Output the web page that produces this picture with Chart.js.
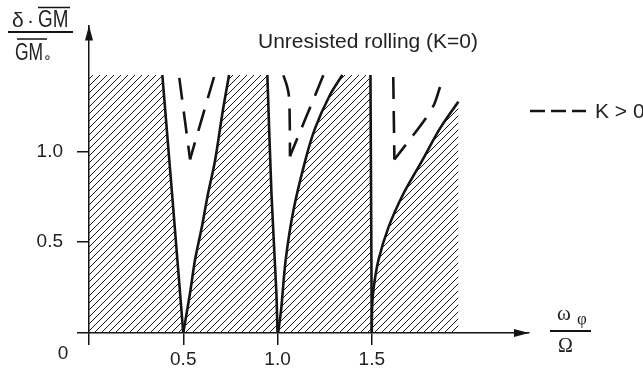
<!DOCTYPE html>
<html>
<head>
<meta charset="utf-8">
<script src="https://cdn.jsdelivr.net/npm/chart.js@4"></script>
<style>
  body { margin: 0; background: #fff; }
  canvas { display: block; }
</style>
</head>
<body>
<canvas id="grafico" width="643" height="373"></canvas>
<script>
// ejes
const xTicks = [0, 0.5, 1.0, 1.5];
const yTicks = [0, 0.5, 1.0];
const xMax = 2.334;
const yMax = 1.693;
const shadeTop = 1.42;

// bordes de las zonas inestables (K=0), linea continua
const t1LeftX = [0.5, 0.445, 0.389];
const t1LeftY = [0, 0.71, shadeTop];
const t1RightX = [0.5, 0.536, 0.562, 0.598, 0.631, 0.668, 0.709, 0.743];
const t1RightY = [0, 0.22, 0.40, 0.58, 0.765, 0.945, 1.218, shadeTop];
const t2LeftX = [1.0, 0.994, 0.968, 0.946];
const t2LeftY = [0, 0.22, 0.765, shadeTop];
const t2RightX = [1.003, 1.019, 1.043, 1.084, 1.146, 1.199, 1.278, 1.344];
const t2RightY = [0, 0.127, 0.40, 0.673, 0.945, 1.126, 1.31, shadeTop];
const t3LeftX = [1.5, 1.493];
const t3LeftY = [0, shadeTop];
const t3RightX = [1.5, 1.502, 1.51, 1.535, 1.588, 1.667, 1.765, 1.862, 1.959];
const t3RightY = [0, 0.15, 0.25, 0.40, 0.58, 0.765, 0.945, 1.126, 1.273];

// K > 0, linea discontinua
const d1LeftX = [0.479, 0.536];
const d1LeftY = [1.404, 0.956];
const d1RightX = [0.663, 0.536];
const d1RightY = [1.409, 0.956];
const d2LeftX = [1.031, 1.050, 1.061, 1.065, 1.066];
const d2LeftY = [1.418, 1.36, 1.30, 1.15, 0.973];
const d2RightX = [1.243, 1.066];
const d2RightY = [1.418, 0.973];
const d3LeftX = [1.614, 1.620];
const d3LeftY = [1.409, 0.955];
const d3RightX = [1.862, 1.830, 1.782, 1.703, 1.620];
const d3RightY = [1.354, 1.256, 1.175, 1.066, 0.955];

const pts = (xs, ys) => xs.map((x, i) => ({ x: x, y: ys[i] }));
const rev = (arr) => arr.slice().reverse();

// patron de rayado
const tile = document.createElement('canvas');
tile.width = 7;
tile.height = 7;
const tc = tile.getContext('2d');
tc.strokeStyle = '#1a1a1a';
tc.lineWidth = 1;
tc.beginPath();
tc.moveTo(0, 7); tc.lineTo(7, 0);
tc.moveTo(-1, 1); tc.lineTo(1, -1);
tc.moveTo(6, 8); tc.lineTo(8, 6);
tc.stroke();
const rayado = tc.createPattern(tile, 'repeat');

// zonas estables (rayadas)
const zona1 = [{ x: 0, y: 0 }, ...pts(t1LeftX, t1LeftY), { x: 0, y: shadeTop }, { x: 0, y: 0 }];
const zona2 = [...pts(t1RightX, t1RightY), ...rev(pts(t2LeftX, t2LeftY)), { x: t1RightX[0], y: 0 }];
const zona3 = [...pts(t2RightX, t2RightY), ...rev(pts(t3LeftX, t3LeftY)), { x: t2RightX[0], y: 0 }];
const zona4 = [...pts(t3RightX, t3RightY), { x: t3RightX[t3RightX.length - 1], y: 0 }, { x: t3RightX[0], y: 0 }];

const zona = (data) => ({
  data: data,
  fill: 'shape',
  backgroundColor: rayado,
  borderWidth: 0,
  borderColor: 'rgba(0,0,0,0)',
  pointRadius: 0,
  tension: 0,
});
const borde = (data) => ({
  data: data,
  fill: false,
  borderColor: '#141414',
  borderWidth: 2.6,
  pointRadius: 0,
  tension: 0.3,
});
const discontinua = (data) => ({
  data: data,
  fill: false,
  borderColor: '#141414',
  borderWidth: 2.6,
  borderDash: [22, 12],
  pointRadius: 0,
  tension: 0.3,
});

const textos = {
  id: 'textos',
  afterDraw(chart) {
    const c = chart.ctx;
    const area = chart.chartArea;
    const x0 = chart.scales.x.getPixelForValue(0);
    const y0 = chart.scales.y.getPixelForValue(0);
    c.save();
    c.fillStyle = '#141414';
    c.strokeStyle = '#141414';

    // flechas
    c.beginPath();
    c.moveTo(x0, area.top);
    c.lineTo(x0 - 4, area.top + 15);
    c.lineTo(x0 + 4, area.top + 15);
    c.closePath();
    c.fill();
    c.beginPath();
    c.moveTo(area.right, y0);
    c.lineTo(area.right - 15, y0 - 4);
    c.lineTo(area.right - 15, y0 + 4);
    c.closePath();
    c.fill();

    c.fillStyle = '#222';
    c.textBaseline = 'alphabetic';
    c.textAlign = 'left';

    // origen
    c.font = '19px "Liberation Sans", Arial, sans-serif';
    c.textAlign = 'center';
    c.textBaseline = 'middle';
    c.fillText('0', 63, 354);

    // titulo
    c.textAlign = 'left';
    c.textBaseline = 'alphabetic';
    c.font = '21px "Liberation Sans", Arial, sans-serif';
    c.fillText('Unresisted rolling (K=0)', 258, 48);

    // leyenda K > 0
    c.fillText('K > 0', 595, 118);
    c.lineWidth = 2.6;
    c.setLineDash([15, 6]);
    c.beginPath();
    c.moveTo(530, 111);
    c.lineTo(586, 111);
    c.stroke();
    c.setLineDash([]);

    // etiqueta eje y: delta * GM / GM0
    c.font = '21px "Liberation Sans", Arial, sans-serif';
    c.fillText('δ', 12, 27);
    c.fillText('·', 27, 27);
    c.save();
    c.translate(38, 27);
    c.scale(0.82, 1);
    c.font = '23px "Liberation Sans", Arial, sans-serif';
    c.fillText('GM', 0, 0);
    c.restore();
    c.save();
    c.translate(15, 60);
    c.scale(0.76, 1);
    c.font = '23px "Liberation Sans", Arial, sans-serif';
    c.fillText('GM', 0, 0);
    c.restore();
    c.font = '14px "DejaVu Sans", sans-serif';
    c.fillText('∘', 43, 62);
    c.lineWidth = 1.5;
    c.beginPath();
    c.moveTo(38, 7.5); c.lineTo(70, 7.5);
    c.moveTo(17, 39); c.lineTo(47, 39);
    c.stroke();
    c.lineWidth = 2;
    c.beginPath();
    c.moveTo(8, 32); c.lineTo(73, 32);
    c.stroke();

    // etiqueta eje x: omega_phi / Omega
    c.font = '21px "Liberation Serif", "Times New Roman", serif';
    c.fillText('ω', 557, 320);
    c.font = '17px "Liberation Serif", "Times New Roman", serif';
    c.fillText('φ', 577, 324);
    c.font = '20px "Liberation Serif", "Times New Roman", serif';
    c.fillText('Ω', 558, 352);
    c.lineWidth = 2;
    c.beginPath();
    c.moveTo(550, 331); c.lineTo(591, 331);
    c.stroke();

    c.restore();
  },
};

new Chart(document.getElementById('grafico'), {
  type: 'line',
  data: {
    datasets: [
      zona(zona1), zona(zona2), zona(zona3), zona(zona4),
      borde(pts(t1LeftX, t1LeftY)), borde(pts(t1RightX, t1RightY)),
      borde(pts(t2LeftX, t2LeftY)), borde(pts(t2RightX, t2RightY)),
      borde(pts(t3LeftX, t3LeftY)), borde(pts(t3RightX, t3RightY)),
      discontinua(pts(d1LeftX, d1LeftY)), discontinua(pts(d1RightX, d1RightY)),
      discontinua(pts(d2LeftX, d2LeftY)), discontinua(pts(d2RightX, d2RightY)),
      discontinua(pts(d3LeftX, d3LeftY)), discontinua(pts(d3RightX, d3RightY)),
    ],
  },
  options: {
    responsive: false,
    animation: false,
    layout: { padding: { top: 23, right: 114, left: 0, bottom: 0 } },
    plugins: {
      legend: { display: false },
      tooltip: { enabled: false },
    },
    scales: {
      x: {
        type: 'linear',
        min: 0,
        max: xMax,
        afterBuildTicks: (s) => { s.ticks = xTicks.map((v) => ({ value: v })); },
        afterFit: (s) => { s.height = 40; },
        grid: { drawOnChartArea: false, drawTicks: true, tickLength: 12, color: '#141414', lineWidth: 1.5 },
        border: { color: '#141414', width: 1.5 },
        ticks: {
          padding: 3,
          color: '#222',
          font: { size: 19, family: '"Liberation Sans", Arial, sans-serif' },
          callback: (v) => (v === 0 ? '' : v.toFixed(1)),
        },
      },
      y: {
        type: 'linear',
        min: 0,
        max: yMax,
        afterBuildTicks: (s) => { s.ticks = yTicks.map((v) => ({ value: v })); },
        afterFit: (s) => { s.width = 89; },
        grid: { drawOnChartArea: false, drawTicks: true, tickLength: 12, color: '#141414', lineWidth: 1.5 },
        border: { color: '#141414', width: 1.5 },
        ticks: {
          padding: 14,
          color: '#222',
          font: { size: 19, family: '"Liberation Sans", Arial, sans-serif' },
          callback: (v) => (v === 0 ? '' : v.toFixed(1)),
        },
      },
    },
  },
  plugins: [textos],
});
</script>
</body>
</html>
